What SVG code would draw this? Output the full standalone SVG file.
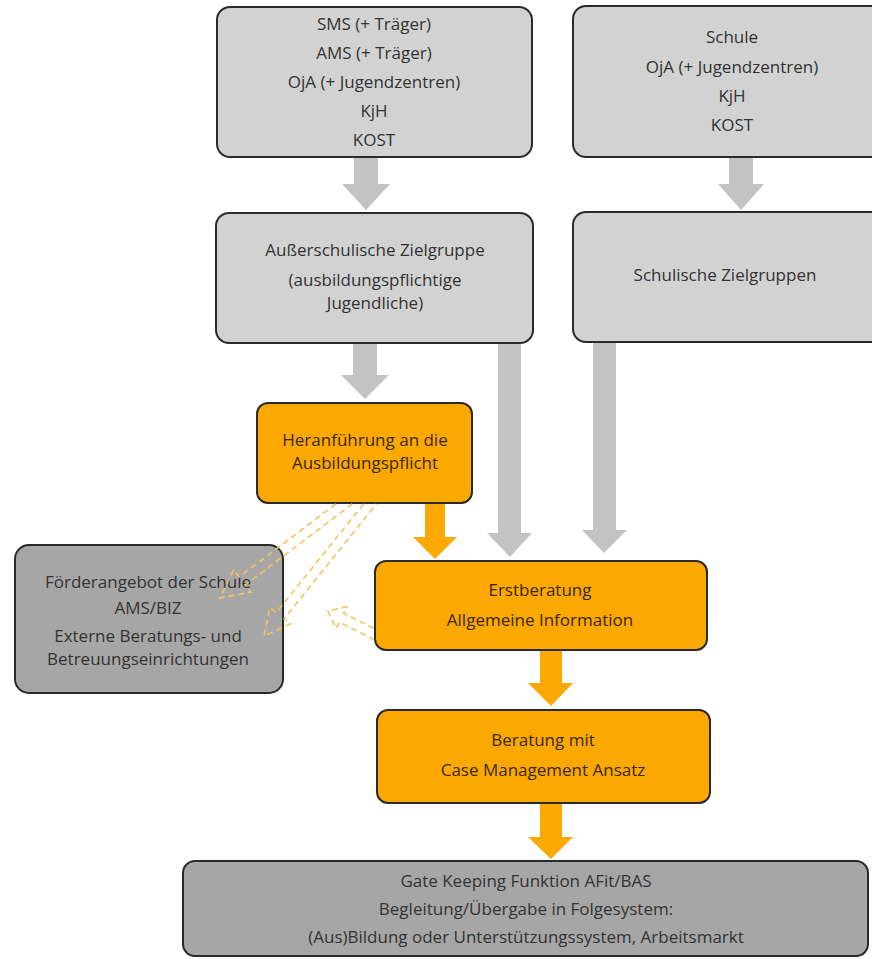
<svg xmlns="http://www.w3.org/2000/svg" width="872" height="959" viewBox="0 0 872 959">
<style>
.box{stroke:#2a2a2a;stroke-width:2}
.lg{fill:#d2d2d2}
.dg{fill:#a6a6a6}
.or{fill:#fba800}
text{font-family:"Open Sans","Liberation Sans",sans-serif;font-size:17px;text-anchor:middle}
.tg{fill:#333333}
.to{fill:#3a2803}
.ga{fill:#c3c3c3}
.oa{fill:#fba800}
.dash{fill:none;stroke:#f3c35c;stroke-width:1.6;stroke-dasharray:6 4}
</style>
<rect width="872" height="959" fill="#ffffff"/>
<g id="connectors">
<polygon class="ga" points="354,157 378,157 378,184 390,184 366,210 342,184 354,184"/>
<polygon class="ga" points="729,157 753,157 753,184 764,184 741,210 718,184 729,184"/>
<polygon class="ga" points="353,343 377,343 377,375 389,375 365,399 341,375 353,375"/>
<polygon class="ga" points="498,343 521,343 521,533 532,533 510,557 487,533 498,533"/>
<polygon class="ga" points="593,342 616,342 616,530 627,530 604,553 582,530 593,530"/>
<polygon class="oa" points="425,503 445,503 445,537 457,537 435,559 413,537 425,537"/>
<polygon class="oa" points="540,650 562,650 562,683 573,683 551,706 528,683 540,683"/>
<polygon class="oa" points="540,803 562,803 562,837 573,837 551,859 528,837 540,837"/>
</g>
<g id="n-sms"><rect class="box lg" x="217" y="7" width="315" height="150" rx="13"/>
<text class="tg" x="374" y="30">SMS (+ Träger)</text>
<text class="tg" x="374" y="59">AMS (+ Träger)</text>
<text class="tg" x="374" y="88">OjA (+ Jugendzentren)</text>
<text class="tg" x="374" y="117">KjH</text>
<text class="tg" x="374" y="146">KOST</text></g>
<g id="n-schule"><rect class="box lg" x="573" y="6" width="318" height="151" rx="13"/>
<text class="tg" x="732" y="43">Schule</text>
<text class="tg" x="732" y="73">OjA (+ Jugendzentren)</text>
<text class="tg" x="732" y="102">KjH</text>
<text class="tg" x="732" y="131">KOST</text></g>
<g id="n-ausserschulisch"><rect class="box lg" x="216" y="213" width="317" height="130" rx="13"/>
<text class="tg" x="375" y="256">Außerschulische Zielgruppe</text>
<text class="tg" x="375" y="286">(ausbildungspflichtige</text>
<text class="tg" x="375" y="309">Jugendliche)</text></g>
<g id="n-schulisch"><rect class="box lg" x="573" y="212" width="318" height="130" rx="13"/>
<text class="tg" x="725" y="281">Schulische Zielgruppen</text></g>
<g id="n-heranfuehrung"><rect class="box or" x="257" y="403" width="215" height="100" rx="11"/>
<text class="to" x="365" y="446">Heranführung an die</text>
<text class="to" x="365" y="469">Ausbildungspflicht</text></g>
<g id="n-foerder"><rect class="box dg" x="15" y="545" width="268" height="148" rx="14"/>
<text class="tg" x="148" y="588">Förderangebot der Schule</text>
<text class="tg" x="148" y="614">AMS/BIZ</text>
<text class="tg" x="148" y="642">Externe Beratungs- und</text>
<text class="tg" x="148" y="665">Betreuungseinrichtungen</text></g>
<g id="n-erstberatung"><rect class="box or" x="375" y="561" width="332" height="89" rx="11"/>
<text class="to" x="540" y="596">Erstberatung</text>
<text class="to" x="540" y="626">Allgemeine Information</text></g>
<g id="n-beratung"><rect class="box or" x="377" y="710" width="333" height="93" rx="11"/>
<text class="to" x="543" y="746">Beratung mit</text>
<text class="to" x="543" y="776">Case Management Ansatz</text></g>
<g id="n-gate"><rect class="box dg" x="183" y="861" width="685" height="95" rx="12"/>
<text class="tg" x="526" y="887">Gate Keeping Funktion AFit/BAS</text>
<text class="tg" x="526" y="915">Begleitung/Übergabe in Folgesystem:</text>
<text class="tg" x="526" y="943">(Aus)Bildung oder Unterstützungssystem, Arbeitsmarkt</text></g>
<g id="dashed-connectors">
<polyline class="dash" points="335.8,504 239.2,577 233.7,569.9 220,598 250.7,592.1 245.2,585 352.2,504"/>
<polyline class="dash" points="363.6,504 276.3,612.6 270,607.6 264,636 290.4,623.8 284.1,618.8 376.4,504"/>
<polyline class="dash" points="374,628.4 343.7,613.1 346.8,606.8 328,611 336.2,628.4 339.3,622.1 374,639.6"/>
</g>
</svg>
